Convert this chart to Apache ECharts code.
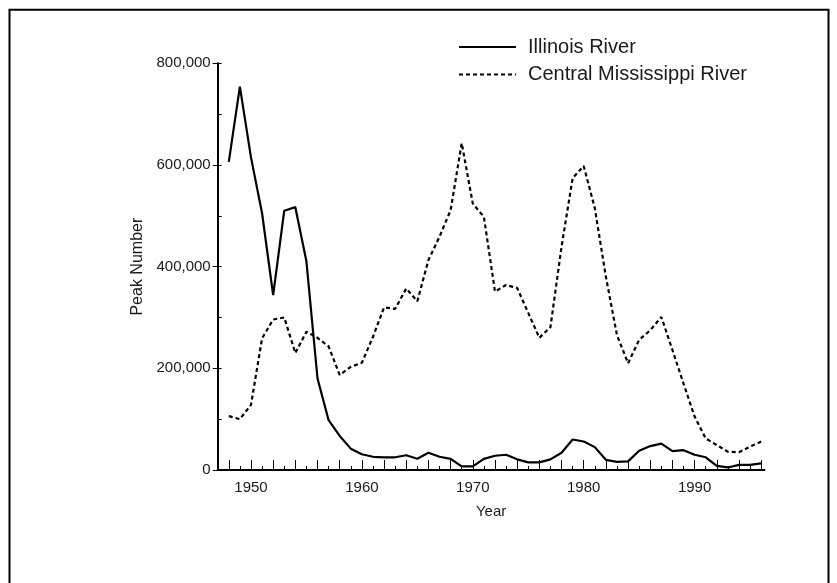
<!DOCTYPE html>
<html>
<head>
<meta charset="utf-8">
<script src="https://cdn.jsdelivr.net/npm/echarts@6/dist/echarts.min.js"></script>
<style>
html,body{margin:0;padding:0;background:#fff;}
#chart{width:837px;height:583px;}
</style>
</head>
<body>
<div id="chart"></div>
<script>
var years = [1948,1949,1950,1951,1952,1953,1954,1955,1956,1957,1958,1959,1960,1961,1962,1963,1964,1965,1966,1967,1968,1969,1970,1971,1972,1973,1974,1975,1976,1977,1978,1979,1980,1981,1982,1983,1984,1985,1986,1987,1988,1989,1990,1991,1992,1993,1994,1995,1996];
var illinois = [606000,754000,615000,505000,344000,510000,517000,410000,180000,98000,67000,42000,31000,26000,25000,25000,29000,22000,34000,26000,22000,7000,7000,22000,28000,30000,21000,15000,15000,21000,34000,60000,56000,45000,20000,16000,17000,38000,47000,52000,37000,39000,30000,25000,8000,5000,10000,10000,13000];
var mississippi = [106000,100000,128000,259000,296000,300000,230000,272000,260000,243000,187000,203000,211000,262000,320000,317000,357000,332000,413000,459000,511000,643000,524000,498000,351000,364000,358000,309000,260000,281000,439000,574000,598000,515000,380000,265000,210000,256000,275000,301000,236000,170000,105000,62000,49000,36000,35000,46000,56000];
var seriesNames = ['Illinois River', 'Central Mississippi River'];
var yearLabels = [1950,1960,1970,1980,1990];
var longTickYears = [1948,1950,1952,1954,1956,1958,1960,1962,1964,1966,1968,1970,1972,1974,1976,1978,1980,1982,1984,1986,1988,1990,1992,1994,1996];
var shortTickYears = [1949,1951,1953,1955,1957,1959,1961,1963,1965,1967,1969,1971,1973,1975,1977,1979,1981,1983,1985,1987,1989,1991,1993,1995];

function pairs(xs, ys){ return xs.map(function(x,i){ return [x, ys[i]]; }); }

var FONT = "'Liberation Sans', Arial, Helvetica, sans-serif";
var TXT = '#1a1a1a';

var chart = echarts.init(document.getElementById('chart'), null, {renderer:'canvas'});
chart.setOption({
  backgroundColor: '#fff',
  animation: false,
  textStyle: {fontFamily: FONT, color: TXT},
  grid: {left: 217.7, right: 72.5, top: 63.3, bottom: 113, containLabel: false},
  legend: {
    orient: 'vertical',
    left: 453, top: 32,
    itemWidth: 57, itemHeight: 12, itemGap: 7.5,
    data: seriesNames,
    itemStyle: {opacity: 0},
    textStyle: {fontSize: 20, color: TXT, fontFamily: FONT, padding: [0,0,0,7]},
    selectedMode: false
  },
  xAxis: [{
    type: 'value', position: 'bottom',
    min: 1947, max: 1996.3,
    name: 'Year', nameLocation: 'middle', nameGap: 34,
    nameTextStyle: {fontSize: 15, color: TXT, fontFamily: FONT},
    axisLine: {show: true, lineStyle: {color: '#000', width: 2}},
    axisTick: {show: true, inside: true, length: 10, customValues: longTickYears, lineStyle: {color: '#000', width: 1}},
    axisLabel: {customValues: yearLabels, formatter: function(v){ return String(v); }, fontSize: 15, color: TXT, margin: 10, fontFamily: FONT},
    splitLine: {show: false}
  },{
    type: 'value', position: 'bottom',
    min: 1947, max: 1996.3,
    axisLine: {show: false},
    axisTick: {show: true, inside: true, length: 4, customValues: shortTickYears, lineStyle: {color: '#000', width: 1}},
    axisLabel: {show: false},
    splitLine: {show: false}
  }],
  yAxis: [{
    type: 'value', position: 'left',
    min: 0, max: 800000, interval: 200000,
    name: 'Peak Number', nameLocation: 'middle', nameRotate: 90, nameGap: 72,
    nameTextStyle: {fontSize: 16, color: TXT, fontFamily: FONT},
    axisLine: {show: true, lineStyle: {color: '#000', width: 2}},
    axisTick: {show: true, inside: false, length: 5, lineStyle: {color: '#000', width: 1}},
    axisLabel: {fontSize: 15, color: TXT, margin: 7, fontFamily: FONT,
      formatter: function(v){ return v.toLocaleString('en-US'); }},
    splitLine: {show: false}
  },{
    type: 'value', position: 'left',
    min: 0, max: 800000, interval: 100000,
    axisLine: {show: false},
    axisTick: {show: true, inside: true, length: 4, lineStyle: {color: '#000', width: 1}},
    axisLabel: {show: false},
    splitLine: {show: false}
  }],
  series: [{
    name: seriesNames[0], type: 'line', xAxisIndex: 0, yAxisIndex: 0,
    data: pairs(years, illinois),
    symbol: 'none', smooth: false,
    lineStyle: {color: '#000', width: 2.2, type: 'solid'},
    itemStyle: {color: '#000'},
    z: 3
  },{
    name: seriesNames[1], type: 'line', xAxisIndex: 0, yAxisIndex: 0,
    data: pairs(years, mississippi),
    symbol: 'none', smooth: false,
    lineStyle: {color: '#000', width: 2.2, type: [4, 3]},
    itemStyle: {color: '#000'},
    z: 2
  }],
  graphic: [{
    type: 'rect', silent: true,
    shape: {x: 9.5, y: 9.7, width: 819, height: 620},
    style: {fill: null, stroke: '#000', lineWidth: 2}
  }]
});
</script>
</body>
</html>
